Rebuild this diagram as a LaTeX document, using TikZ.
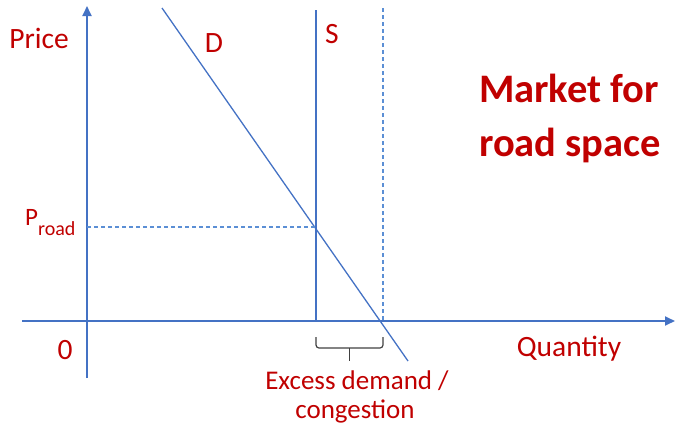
\documentclass[tikz,border=0pt]{standalone}
\usepackage{fontspec}
\setmainfont{Carlito}
\usetikzlibrary{arrows.meta}
\definecolor{ored}{HTML}{C00000}
\definecolor{oblue}{HTML}{4472C4}
\definecolor{lblue}{HTML}{5B8FD5}
\begin{document}
\begin{tikzpicture}[x=1pt,y=-1pt,
  axis/.style={oblue,line width=1.8pt,-{Triangle[width=9pt,length=10pt]}},
  curve/.style={oblue,line width=1.3pt},
  guide/.style={lblue,line width=1.2pt,dash pattern=on 4pt off 3pt},
  bracestyle/.style={black!75,line width=1.2pt,rounded corners=3pt},
  lbl/.style={text=ored,font=\fontsize{29.5}{34}\selectfont,inner sep=0pt},
  small/.style={text=ored,font=\fontsize{27}{31}\selectfont,inner sep=0pt},
  title/.style={text=ored,font=\fontsize{40.5}{46}\selectfont\bfseries,inner sep=0pt,align=left}]
\useasboundingbox (0,0) rectangle (675,426);
\coordinate (yb) at (87,378);
\coordinate (yt) at (87,6);
\coordinate (xl) at (22,321);
\coordinate (xr) at (675,321);
\draw[axis] (yb) -- (yt);
\draw[axis] (xl) -- (xr);
\coordinate (dt) at (162,8);
\coordinate (db) at (408,361);
\draw[curve] (dt) -- (db);
\coordinate (st) at (316,10);
\coordinate (sb) at (316,321);
\draw[curve] (st) -- (sb);
\coordinate (qt) at (383,8);
\coordinate (qb) at (383,321);
\draw[guide] (qt) -- (qb);
\coordinate (pa) at (87,227);
\coordinate (pe) at (316,227);
\draw[guide] (pa) -- (pe);
\coordinate (bl) at (316,337);
\coordinate (bm) at (349.5,348);
\coordinate (bt) at (349.5,361);
\coordinate (br) at (383,337);
\draw[bracestyle] (bl) -- (bl |- bm) -- (bm) -- (br |- bm) -- (br);
\draw[bracestyle,rounded corners=0pt] (bm) -- (bt);
\node[lbl] (price) at (39,38) {Price};
\node[lbl] (dlab) at (214,43) {D};
\node[lbl] (slab) at (332,34) {S};
\node[lbl] (zero) at (65,350) {0};
\node[lbl] (qlab) at (569,349) {Quantity};
\node[text=ored,inner sep=0pt,anchor=base west,font=\fontsize{25}{29}\selectfont] (plab) at (25,225) {P\raisebox{-10pt}{\fontsize{20}{23}\selectfont road}};
\node[small] (ex1) at (357,381) {Excess demand /};
\node[small] (ex2) at (355,411) {congestion};
\node[title,anchor=west] (t1) at (479,88) {Market for};
\node[title,anchor=west] (t2) at (479,145) {road space};
\end{tikzpicture}
\end{document}
